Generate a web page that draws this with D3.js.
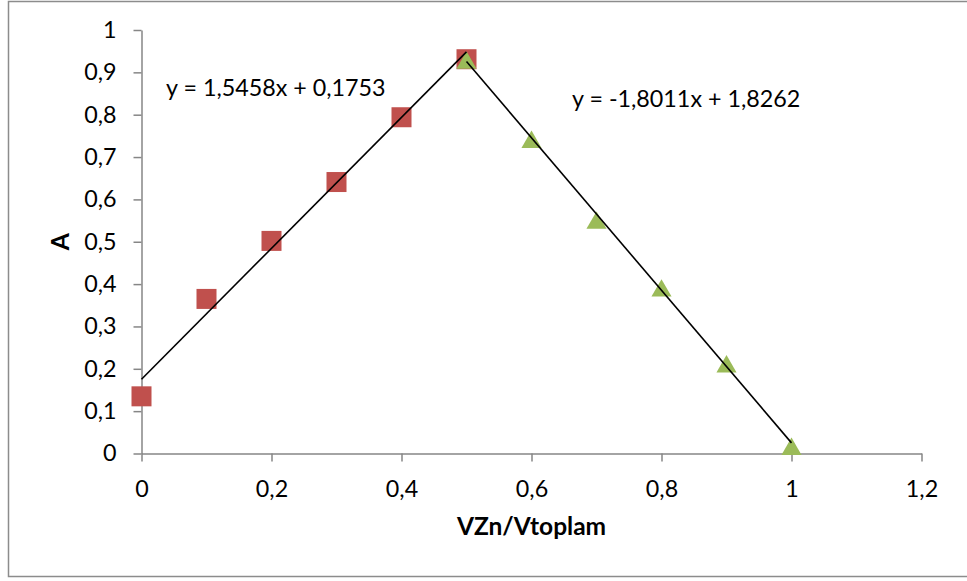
<!DOCTYPE html>
<html>
<head>
<meta charset="utf-8">
<script src="https://cdn.jsdelivr.net/npm/d3@7"></script>
<style>
  body { margin: 0; background: #fff; }
  svg text { font-family: Lato, "Open Sans", sans-serif; fill: #000; }
</style>
</head>
<body>
<svg width="967" height="581"></svg>
<script>
// data
var xRed = [0, 0.1, 0.2, 0.3, 0.4, 0.5];
var yRed = [0.135, 0.365, 0.502, 0.641, 0.794, 0.931];
var xGreen = [0.5, 0.6, 0.7, 0.8, 0.9, 1.0];
var yGreen = [0.929, 0.742, 0.551, 0.391, 0.212, 0.017];
// trendline equations shown on the chart
var trendRed = { slope: 1.5458, intercept: 0.1753, label: 'y = 1,5458x + 0,1753' };
var trendGreen = { slope: -1.8011, intercept: 1.8262, label: 'y = -1,8011x + 1,8262' };
var xTicks = [0, 0.2, 0.4, 0.6, 0.8, 1, 1.2];
var yTicks = [0, 0.1, 0.2, 0.3, 0.4, 0.5, 0.6, 0.7, 0.8, 0.9, 1];

var svg = d3.select('svg');
var axisColor = '#868686';
var fontSize = '23.3px';

// chart border
svg.append('rect')
    .attr('x', 8.5).attr('y', 1.5)
    .attr('width', 980).attr('height', 575)
    .attr('fill', 'none')
    .attr('stroke', '#8c8c8c')
    .attr('stroke-width', 1.5);

var x = d3.scaleLinear().domain([0, 1.2]).range([141.5, 921.5]);
var y = d3.scaleLinear().domain([0, 1]).range([453.5, 30]);

function fmt(d) {
    return String(+d.toFixed(1)).replace('.', ',');
}

var yAxis = svg.append('g')
    .attr('transform', 'translate(' + x(0) + ',0)')
    .call(d3.axisLeft(y).tickValues(yTicks).tickFormat(fmt)
        .tickSizeInner(8).tickSizeOuter(0).tickPadding(17));

var xAxis = svg.append('g')
    .attr('transform', 'translate(0,' + y(0) + ')')
    .call(d3.axisBottom(x).tickValues(xTicks).tickFormat(fmt)
        .tickSizeInner(8).tickSizeOuter(0).tickPadding(18.5));

[xAxis, yAxis].forEach(function(a) {
    a.select('.domain').attr('stroke', axisColor).attr('stroke-width', 1.5);
    a.selectAll('.tick line').attr('stroke', axisColor).attr('stroke-width', 1.5);
    a.selectAll('.tick text')
        .attr('fill', '#000')
        .style('font-size', fontSize)
        .style('font-family', 'Lato, sans-serif');
});

// markers
var red = xRed.map(function(v, i) { return { x: v, y: yRed[i] }; });
var green = xGreen.map(function(v, i) { return { x: v, y: yGreen[i] }; });

svg.selectAll('rect.sq')
    .data(red)
    .enter()
    .append('rect')
    .attr('class', 'sq')
    .attr('x', function(d) { return x(d.x) - 10; })
    .attr('y', function(d) { return y(d.y) - 10; })
    .attr('width', 20)
    .attr('height', 20)
    .attr('fill', '#C0504D');

// triangle centred on its bounding box, like the spreadsheet marker
var tri = d3.symbol().type(d3.symbolTriangle).size(175);
var triShift = Math.sqrt(175 * Math.sqrt(3)) / 6;
svg.selectAll('path.tri')
    .data(green)
    .enter()
    .append('path')
    .attr('class', 'tri')
    .attr('d', tri)
    .attr('transform', function(d) { return 'translate(' + x(d.x) + ',' + (y(d.y) + triShift) + ')'; })
    .attr('fill', '#9BBB59');

// trendlines
function trendSeg(t, xs) {
    var x0 = d3.min(xs), x1 = d3.max(xs);
    return [[x0, t.slope * x0 + t.intercept], [x1, t.slope * x1 + t.intercept]];
}
var line = d3.line()
    .x(function(d) { return x(d[0]); })
    .y(function(d) { return y(d[1]); });

[[trendRed, xRed], [trendGreen, xGreen]].forEach(function(p) {
    svg.append('path')
        .attr('d', line(trendSeg(p[0], p[1])))
        .attr('fill', 'none')
        .attr('stroke', '#000')
        .attr('stroke-width', 1.6);
});

// equation labels
svg.append('text')
    .attr('x', 166).attr('y', 96)
    .style('font-size', fontSize)
    .text(trendRed.label);
svg.append('text')
    .attr('x', 572).attr('y', 107)
    .style('font-size', fontSize)
    .text(trendGreen.label);

// axis titles
svg.append('text')
    .attr('x', x(0.6)).attr('y', 535)
    .attr('text-anchor', 'middle')
    .style('font-size', '24.5px')
    .style('font-weight', 'bold')
    .text('VZn/Vtoplam');

svg.append('text')
    .attr('transform', 'translate(69,' + y(0.5) + ') rotate(-90)')
    .attr('text-anchor', 'middle')
    .style('font-size', '24.5px')
    .style('font-weight', 'bold')
    .text('A');
</script>
</body>
</html>
